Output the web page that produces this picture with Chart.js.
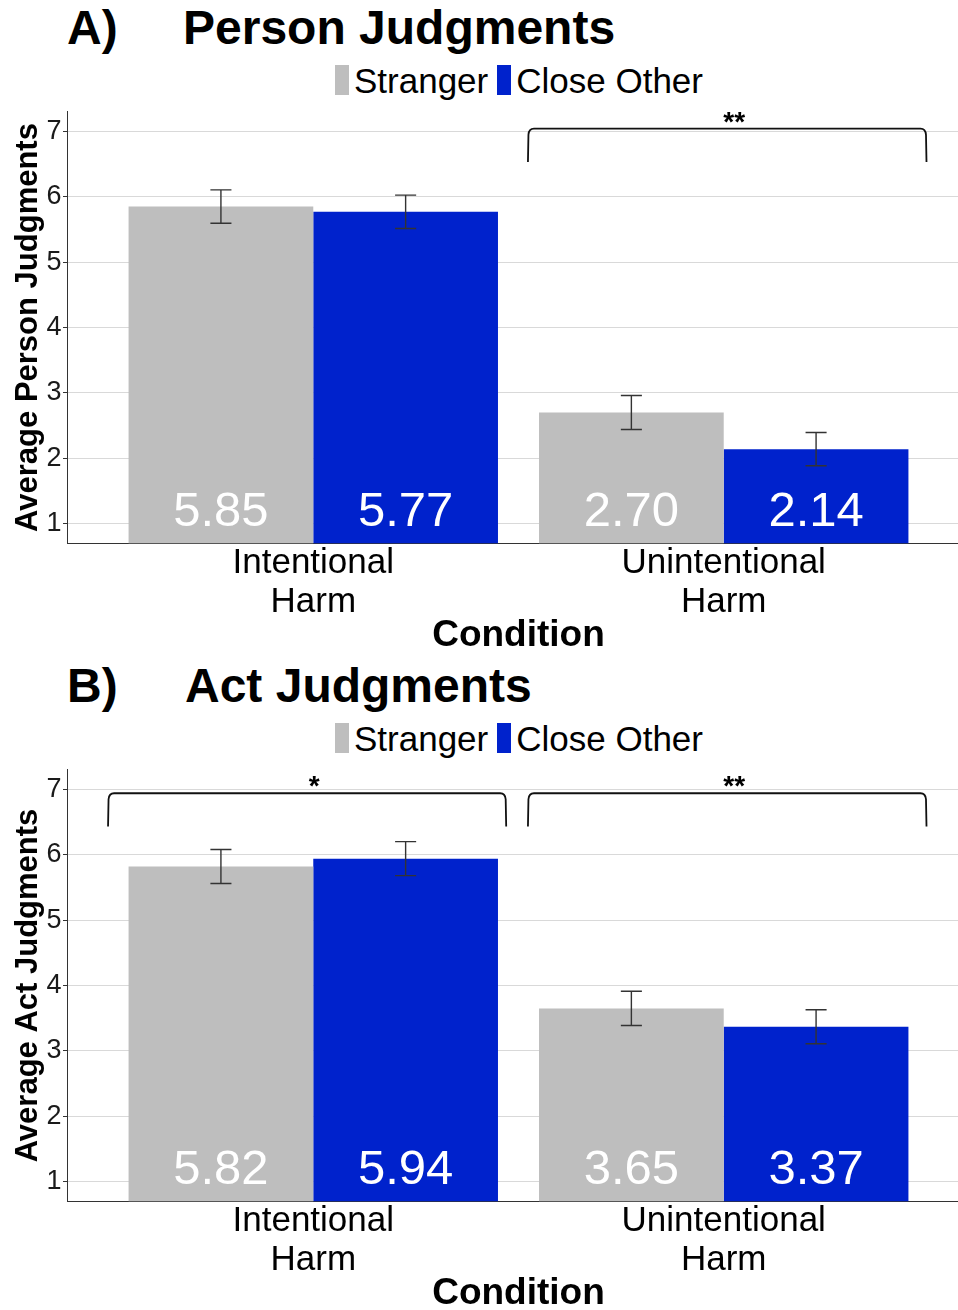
<!DOCTYPE html>
<html>
<head>
<meta charset="utf-8">
<title>Person and Act Judgments</title>
<script src="https://cdn.jsdelivr.net/npm/chart.js@4.4.0/dist/chart.umd.min.js"></script>
<style>
  body { margin: 0; background: #fff; font-family: "Liberation Sans", Arial, sans-serif; }
  .panel { position: relative; width: 958px; height: 658px; overflow: hidden; }
  .panel canvas { position: absolute; left: 0; top: 0; }
  .tag, .heading { position: absolute; top: 4px; font-size: 48px; line-height: 48px; font-weight: bold; color: #000; white-space: nowrap; }
  .tag { left: 67px; }
  .legend { position: absolute; left: 335px; top: 63px; display: flex; font-size: 35px; line-height: 35px; white-space: nowrap; color: #000; }
  .legend .item { display: flex; margin-right: 9px; }
  .legend .key { width: 14px; height: 30px; margin-top: 2px; margin-right: 5px; }
</style>
</head>
<body>

<div class="panel">
  <div class="tag">A)</div>
  <div class="heading" style="left:183px">Person Judgments</div>
  <div class="legend"></div>
  <canvas id="personChart" width="970" height="655"></canvas>
</div>

<div class="panel">
  <div class="tag">B)</div>
  <div class="heading" style="left:185px">Act Judgments</div>
  <div class="legend"></div>
  <canvas id="actChart" width="970" height="655"></canvas>
</div>

<script>
const conditions = [['Intentional', 'Harm'], ['Unintentional', 'Harm']];
const conditionPos = [1, 2];
const groups = ['Stranger', 'Close Other'];
const groupColors = ['#bebebe', '#0022cc'];
const yTicks = [1, 2, 3, 4, 5, 6, 7];

// person judgments: means and standard errors
const personStranger = [5.85, 2.70];
const personClose = [5.77, 2.14];
const personStrangerSE = [0.255, 0.26];
const personCloseSE = [0.255, 0.255];

// act judgments
const actStranger = [5.82, 3.65];
const actClose = [5.94, 3.37];
const actStrangerSE = [0.26, 0.262];
const actCloseSE = [0.26, 0.26];

// significance brackets (x range, top of bracket, stars)
const personSigFrom = [1.523];
const personSigTo = [2.494];
const personSigTop = [7.04];
const personSigText = ['**'];

const actSigFrom = [0.5, 1.523];
const actSigTo = [1.47, 2.494];
const actSigTop = [6.94, 6.94];
const actSigText = ['*', '**'];

const bracketDrop = 0.51;
const valueLabelY = 0.96;

Chart.defaults.font.family = '"Liberation Sans", Arial, sans-serif';

// error bars, value labels and significance brackets
const overlayPlugin = {
  id: 'overlay',
  afterDatasetsDraw(chart, args, opts) {
    const ctx = chart.ctx;
    const xs = chart.scales.x, ys = chart.scales.y;
    ctx.save();

    chart.data.datasets.forEach((ds, i) => {
      const meta = chart.getDatasetMeta(i);
      meta.data.forEach((bar, j) => {
        const m = ds.data[j].y;
        const se = opts.errors[i][j];
        const top = ys.getPixelForValue(m + se);
        const bot = ys.getPixelForValue(m - se);
        const half = bar.width * 0.057;
        ctx.strokeStyle = '#333';
        ctx.lineWidth = 1.4;
        ctx.beginPath();
        ctx.moveTo(bar.x, top); ctx.lineTo(bar.x, bot);
        ctx.moveTo(bar.x - half, top); ctx.lineTo(bar.x + half, top);
        ctx.moveTo(bar.x - half, bot); ctx.lineTo(bar.x + half, bot);
        ctx.stroke();

        ctx.fillStyle = '#fff';
        ctx.font = '49px "Liberation Sans", Arial, sans-serif';
        ctx.textAlign = 'center';
        ctx.textBaseline = 'alphabetic';
        ctx.fillText(m.toFixed(2), bar.x, ys.getPixelForValue(valueLabelY));
      });
    });

    const r = 6;
    opts.sigFrom.forEach((from, k) => {
      const xl = xs.getPixelForValue(from);
      const xr = xs.getPixelForValue(opts.sigTo[k]);
      const yt = ys.getPixelForValue(opts.sigTop[k]);
      const yb = ys.getPixelForValue(opts.sigTop[k] - bracketDrop);
      ctx.strokeStyle = '#111';
      ctx.lineWidth = 1.8;
      ctx.beginPath();
      ctx.moveTo(xl, yb);
      ctx.lineTo(xl + 0.5, yt + r);
      ctx.quadraticCurveTo(xl + 1, yt, xl + r, yt);
      ctx.lineTo(xr - r, yt);
      ctx.quadraticCurveTo(xr - 1, yt, xr - 0.5, yt + r);
      ctx.lineTo(xr, yb);
      ctx.stroke();

      ctx.fillStyle = '#000';
      ctx.font = 'bold 28px "Liberation Sans", Arial, sans-serif';
      ctx.textAlign = 'center';
      ctx.textBaseline = 'alphabetic';
      ctx.fillText(opts.sigText[k], (xl + xr) / 2 + 7, yt + 2);
    });

    ctx.restore();
  }
};

function buildLegend(el) {
  groups.forEach((g, i) => {
    const item = document.createElement('div');
    item.className = 'item';
    item.innerHTML = `<div class="key" style="background:${groupColors[i]}"></div><span>${g}</span>`;
    el.appendChild(item);
  });
}

function makePanel(id, yTitle, stranger, close, strangerSE, closeSE, sigFrom, sigTo, sigTop, sigText) {
  const ctx = document.getElementById(id);
  new Chart(ctx, {
    type: 'bar',
    data: {
      datasets: [
        { label: groups[0], data: conditionPos.map((p, i) => ({ x: p, y: stranger[i] })), backgroundColor: groupColors[0] },
        { label: groups[1], data: conditionPos.map((p, i) => ({ x: p, y: close[i] })), backgroundColor: groupColors[1] }
      ]
    },
    options: {
      responsive: false,
      animation: false,
      devicePixelRatio: 1,
      layout: { padding: { top: 111.7, left: 0, right: 0, bottom: 0 } },
      datasets: { bar: { categoryPercentage: 0.9, barPercentage: 1.0, borderWidth: 0 } },
      plugins: {
        legend: { display: false },
        tooltip: { enabled: false },
        overlay: { errors: [strangerSE, closeSE], sigFrom, sigTo, sigTop, sigText }
      },
      scales: {
        x: {
          type: 'linear', min: 0.4, max: 2.6, offset: false,
          afterBuildTicks: s => { s.ticks = conditionPos.map(v => ({ value: v })); },
          afterFit: s => { s.height = 111.7; },
          grid: { display: false, drawTicks: false, offset: false },
          border: { display: true, color: '#333', width: 1 },
          ticks: {
            color: '#000', font: { size: 35, lineHeight: 1.12 }, padding: 0,
            maxRotation: 0, autoSkip: false,
            callback: (v, i) => conditions[i]
          },
          title: {
            display: true, text: 'Condition', color: '#000',
            font: { size: 37, weight: 'bold', lineHeight: 1 }, padding: { top: 0, bottom: 1 }
          }
        },
        y: {
          min: 0.7, max: 7.3,
          afterBuildTicks: s => { s.ticks = yTicks.map(v => ({ value: v })); },
          afterFit: s => { s.width = 67; },
          grid: { color: '#d9d9d9', lineWidth: 1, tickColor: '#333', tickLength: 4 },
          border: { color: '#333', width: 1 },
          ticks: { color: '#1a1a1a', font: { size: 27 }, padding: 1.5 },
          title: {
            display: true, text: yTitle, color: '#000',
            font: { size: 31, weight: 'bold', lineHeight: 1.2 }, padding: { top: 9.5, bottom: 0 }
          }
        }
      }
    },
    plugins: [overlayPlugin]
  });
}

document.querySelectorAll('.legend').forEach(buildLegend);

makePanel('personChart', 'Average Person Judgments', personStranger, personClose,
  personStrangerSE, personCloseSE, personSigFrom, personSigTo, personSigTop, personSigText);
makePanel('actChart', 'Average Act Judgments', actStranger, actClose,
  actStrangerSE, actCloseSE, actSigFrom, actSigTo, actSigTop, actSigText);
</script>
</body>
</html>
